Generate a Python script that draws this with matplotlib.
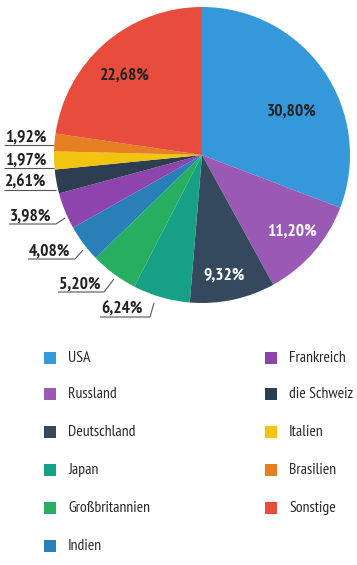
import matplotlib.pyplot as plt
from matplotlib.patches import Rectangle

countries = ['USA', 'Russland', 'Deutschland', 'Japan', 'Großbritannien', 'Indien',
             'Frankreich', 'die Schweiz', 'Italien', 'Brasilien', 'Sonstige']
shares = [30.80, 11.20, 9.32, 6.24, 5.20, 4.08, 3.98, 2.61, 1.97, 1.92, 22.68]
colors = ['#3498DB', '#9B59B6', '#34495E', '#16A085', '#27AE60', '#2980B9',
          '#8E44AD', '#2C3E50', '#F1C40F', '#E67E22', '#E74C3C']

H = 565  # figure height in px, axes use pixel coords with y up

plt.rcParams['font.family'] = ['PT Sans Narrow', 'Asap Condensed', 'DejaVu Sans']

fig = plt.figure(figsize=(3.57, 5.65), dpi=100)
ax = fig.add_axes([0, 0, 1, 1])

cx, cy, r = 202, H - 155, 148
wedges, _ = ax.pie(shares, colors=colors, startangle=90, counterclock=False,
                   center=(cx, cy), radius=r, wedgeprops=dict(linewidth=0))
ax.set_xlim(0, 357)
ax.set_ylim(0, H)
ax.axis('off')


def fmt(v):
    return f'{v:.2f}%'.replace('.', ',')


# labels inside the pie (index -> position in px, text colour)
inside = {0: ((292, 112), '#222222'), 1: ((292, 232), 'white'),
          2: ((224, 276), 'white'), 10: ((125, 77), '#222222')}
for i, ((px, py), c) in inside.items():
    ax.text(px, H - py, fmt(shares[i]), ha='center', va='center',
            fontsize=12.5, fontweight='bold', color=c)

# labels outside with leader lines: index -> (x start, underline y, underline end x, tip)
outside = {3: (100, 317, 150, (154, 303)),
           4: (58, 292, 104, (114, 279)),
           5: (28, 259, 75, (83, 250)),
           6: (9, 224, 56, (65, 218)),
           7: (4, 190, 56, (56, 190)),
           8: (4, 168, 54, (54, 168)),
           9: (4, 145, 54, (54, 145))}
for i, (x0, uy, x1, (tx, ty)) in outside.items():
    ax.plot([x0, x1, tx], [H - uy, H - uy, H - ty], color='#555555', lw=0.8,
            clip_on=False, solid_capstyle='butt')
    ax.text(x0 + 1, H - uy + 3, fmt(shares[i]), ha='left', va='baseline',
            fontsize=12.5, fontweight='bold', color='#222222')

# legend, filled column by column
rows_y = [358, 394, 432, 470, 508, 546]
col_x = [44, 265]
for k, (name, c) in enumerate(zip(countries, colors)):
    col, row = divmod(k, 6)
    mx, my = col_x[col], rows_y[row]
    ax.add_patch(Rectangle((mx, H - my - 6), 12, 12, color=c, lw=0))
    ax.text(mx + 24, H - my, name, ha='left', va='center', fontsize=11.3,
            color='#2a2a2a')

fig.savefig('out.png', dpi=100)
